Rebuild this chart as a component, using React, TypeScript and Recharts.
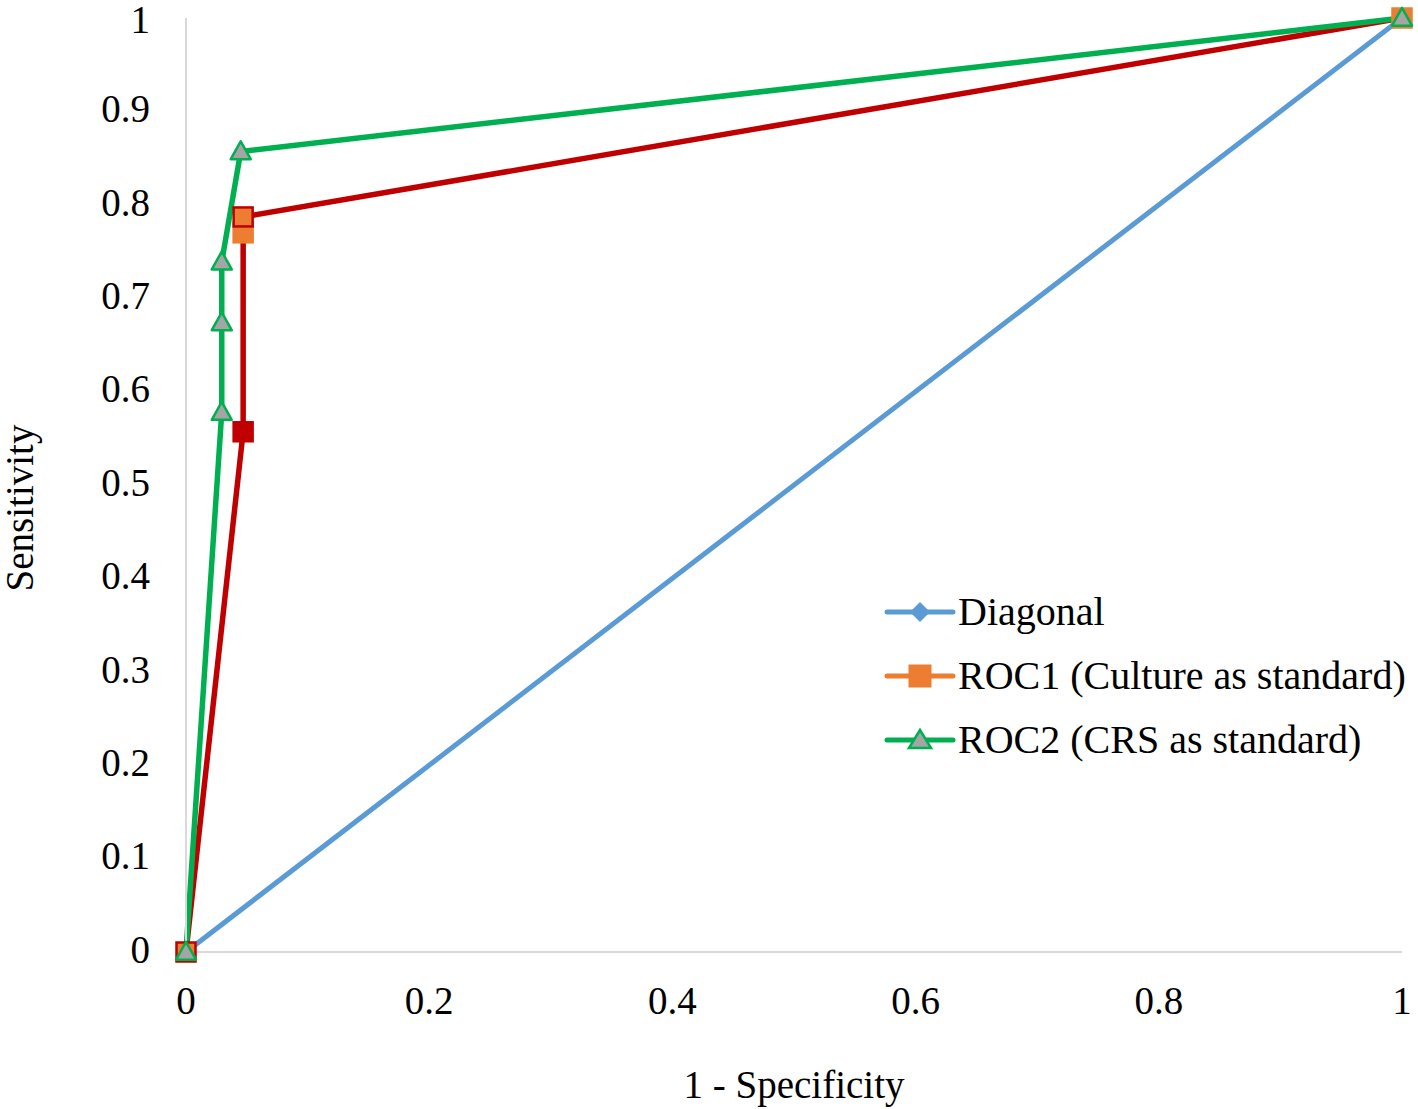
import React from "react";
import { LineChart, Line, XAxis, YAxis } from "recharts";

const xTicks = [0, 0.2, 0.4, 0.6, 0.8, 1];
const yTicks = [0, 0.1, 0.2, 0.3, 0.4, 0.5, 0.6, 0.7, 0.8, 0.9, 1];

const diagonalX = [0, 1];
const diagonalY = [0, 1];

const roc1X = [0, 0.047, 0.047, 0.047, 1];
const roc1Y = [0, 0.557, 0.77, 0.787, 1];

const roc2X = [0, 0.0294, 0.0294, 0.0294, 0.045, 1];
const roc2Y = [0, 0.578, 0.674, 0.739, 0.857, 1];

const seriesNames = ["Diagonal", "ROC1 (Culture as standard)", "ROC2 (CRS as standard)"];
const xLabel = "1 - Specificity";
const yLabel = "Sensitivity";

const toPoints = (xs: number[], ys: number[]) => xs.map((x, i) => ({ x, y: ys[i] }));

const diagonalData = toPoints(diagonalX, diagonalY);
const roc1Data = toPoints(roc1X, roc1Y);
const roc2Data = toPoints(roc2X, roc2Y);

const BLUE = "#5B9BD5";
const ORANGE = "#ED7D31";
const RED = "#C00000";
const GREEN = "#00B050";
const GRAY = "#A5A5A5";
const FONT = "'Liberation Serif', 'Times New Roman', serif";

// per-point marker styles for ROC1
const roc1MarkerStyle = [
  { fill: ORANGE, stroke: RED },
  { fill: RED, stroke: RED },
  { fill: ORANGE, stroke: ORANGE },
  { fill: ORANGE, stroke: RED },
  { fill: ORANGE, stroke: ORANGE },
];

const Square = (props: any) => {
  const { cx, cy, index } = props;
  if (cx == null || cy == null) return <g key={`s${index}`} />;
  const st = roc1MarkerStyle[index] || roc1MarkerStyle[0];
  const s = 19;
  return (
    <rect
      key={`s${index}`}
      x={cx - s / 2}
      y={cy - s / 2}
      width={s}
      height={s}
      fill={st.fill}
      stroke={st.stroke}
      strokeWidth={2.5}
    />
  );
};

const Triangle = (props: any) => {
  const { cx, cy, index } = props;
  if (cx == null || cy == null) return <g key={`t${index}`} />;
  const w = 10;
  const h = 17;
  return (
    <polygon
      key={`t${index}`}
      points={`${cx},${cy - h * 0.6} ${cx - w},${cy + h * 0.45} ${cx + w},${cy + h * 0.45}`}
      fill={GRAY}
      stroke={GREEN}
      strokeWidth={2.5}
      strokeLinejoin="round"
    />
  );
};

const Diamond = (props: any) => {
  const { cx, cy, index } = props;
  if (cx == null || cy == null) return <g key={`d${index}`} />;
  const r = 10;
  return (
    <polygon
      key={`d${index}`}
      points={`${cx},${cy - r} ${cx + r},${cy} ${cx},${cy + r} ${cx - r},${cy}`}
      fill={BLUE}
      stroke={BLUE}
    />
  );
};

const YLabel = (props: any) => {
  const vb = props.viewBox || { x: 0, y: 0, width: 0, height: 0 };
  const x = vb.x + 33;
  const y = vb.y + vb.height / 2 + 23;
  return (
    <text
      x={x}
      y={y}
      transform={`rotate(-90, ${x}, ${y})`}
      textAnchor="middle"
      fontFamily={FONT}
      fontSize={39}
      fill="#000"
    >
      {yLabel}
    </text>
  );
};

const LegendBox = () => {
  const rows = [
    { color: BLUE, marker: "diamond" },
    { color: ORANGE, marker: "square" },
    { color: GREEN, marker: "triangle" },
  ];
  return (
    <svg width={540} height={200} style={{ position: "absolute", left: 884, top: 590, overflow: "visible" }}>
      {rows.map((r, i) => {
        const cy = 22 + i * 64;
        const cx = 36;
        return (
          <g key={i}>
            <line x1={3} x2={69} y1={cy} y2={cy} stroke={r.color} strokeWidth={5} strokeLinecap="round" />
            {r.marker === "diamond" && (
              <polygon points={`${cx},${cy - 10} ${cx + 10},${cy} ${cx},${cy + 10} ${cx - 10},${cy}`} fill={BLUE} />
            )}
            {r.marker === "square" && (
              <rect x={cx - 11} y={cy - 11} width={22} height={22} fill={ORANGE} stroke={ORANGE} />
            )}
            {r.marker === "triangle" && (
              <polygon
                points={`${cx},${cy - 10} ${cx - 11},${cy + 8} ${cx + 11},${cy + 8}`}
                fill={GRAY}
                stroke={GREEN}
                strokeWidth={2.5}
              />
            )}
            <text x={74} y={cy + 13} fontFamily={FONT} fontSize={40} fill="#000">
              {seriesNames[i]}
            </text>
          </g>
        );
      })}
    </svg>
  );
};

const fmt = (v: number) => (v === 0 || v === 1 ? String(v) : String(Number(v.toFixed(1))));

export default function App() {
  return (
    <div style={{ position: "absolute", left: 0, top: 0, width: 1418, height: 1109, background: "#fff" }}>
      <LineChart
        width={1418}
        height={1109}
        margin={{ top: 18, right: 16, bottom: 77, left: 0 }}
      >
        <XAxis
          type="number"
          dataKey="x"
          domain={[0, 1]}
          ticks={xTicks}
          tickFormatter={fmt}
          allowDuplicatedCategory={false}
          axisLine={{ stroke: "#D9D9D9", strokeWidth: 2 }}
          tickLine={false}
          tickSize={0}
          tickMargin={34}
          height={80}
          tick={{ fill: "#000", fontFamily: FONT, fontSize: 39 }}
          label={{ value: xLabel, position: "insideBottom", offset: -66, fill: "#000", fontFamily: FONT, fontSize: 39 } as any}
        />
        <YAxis
          type="number"
          dataKey="y"
          domain={[0, 1]}
          ticks={yTicks}
          tickFormatter={fmt}
          axisLine={{ stroke: "#D9D9D9", strokeWidth: 2 }}
          tickLine={false}
          tickSize={0}
          tickMargin={36}
          width={186}
          tick={{ fill: "#000", fontFamily: FONT, fontSize: 39, dy: -3 } as any}
          label={<YLabel />}
        />
        <Line
          data={diagonalData}
          dataKey="y"
          name={seriesNames[0]}
          stroke={BLUE}
          strokeWidth={5}
          dot={Diamond as any}
          activeDot={false}
          isAnimationActive={false}
        />
        <Line
          data={roc1Data}
          dataKey="y"
          name={seriesNames[1]}
          stroke={RED}
          strokeWidth={5.5}
          dot={Square as any}
          activeDot={false}
          isAnimationActive={false}
        />
        <Line
          data={roc2Data}
          dataKey="y"
          name={seriesNames[2]}
          stroke={GREEN}
          strokeWidth={5.5}
          dot={Triangle as any}
          activeDot={false}
          isAnimationActive={false}
        />
      </LineChart>
      <LegendBox />
    </div>
  );
}
